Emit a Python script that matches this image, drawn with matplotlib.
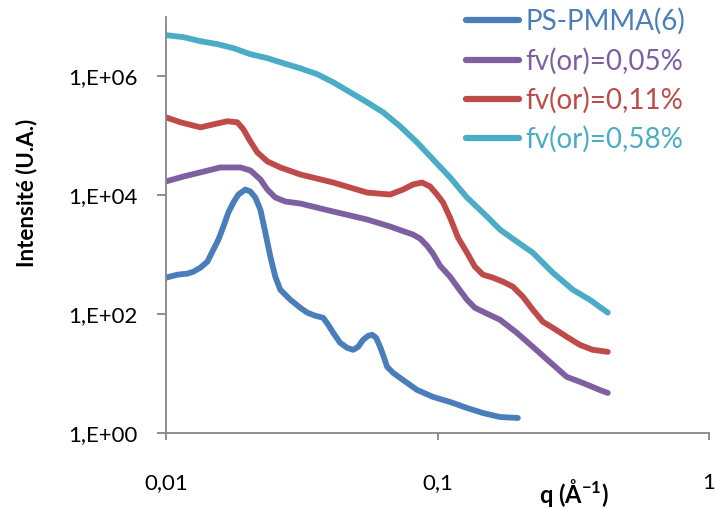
import matplotlib
matplotlib.use("Agg")
import matplotlib.pyplot as plt
from matplotlib.ticker import FixedLocator, FixedFormatter

plt.rcParams['font.family'] = ['Lato', 'DejaVu Sans']
plt.rcParams['mathtext.fontset'] = 'custom'
plt.rcParams['mathtext.rm'] = 'Lato'
plt.rcParams['mathtext.bf'] = 'Lato:bold'

# --- donnees (q en 1/A, intensite en U.A.) ---
q_ps = [0.01, 0.01102, 0.01199, 0.01262, 0.01339, 0.01421, 0.01495, 0.0156, 0.01627,
        0.01697, 0.01771, 0.01848, 0.0196, 0.02045, 0.02133, 0.02226, 0.02322, 0.02423,
        0.02527, 0.02636, 0.02869, 0.03123, 0.03313, 0.03545, 0.03793, 0.03957, 0.04129,
        0.0438, 0.04648, 0.04891, 0.05103, 0.05322, 0.05553, 0.05744, 0.05942, 0.06147,
        0.06359, 0.06522, 0.06862, 0.0728, 0.08407, 0.09627, 0.1112, 0.1284, 0.147,
        0.1698, 0.1977]
I_ps = [411, 462, 480, 519, 606, 765, 1.22e3, 1.80e3, 2.98e3,
        5.13e3, 7.57e3, 1.03e4, 1.25e4, 1.16e4, 9.18e3, 5.76e3, 2.36e3, 929,
        427, 258, 175, 128, 106, 94.0, 86.9, 66.3, 48.6,
        32.9, 27.1, 25.1, 28.2, 37.0, 43.2, 45.0, 40.0, 28.2,
        18.4, 13.0, 10.3, 8.46, 5.31, 4.05, 3.33, 2.64, 2.17,
        1.86, 1.79]

q_005 = [0.01, 0.0116, 0.01339, 0.01586, 0.01879, 0.02045, 0.02226, 0.02362, 0.02527,
         0.0275, 0.03123, 0.04129, 0.05506, 0.0669, 0.08127, 0.08625, 0.0915, 0.09627,
         0.1021, 0.1112, 0.119, 0.1284, 0.1373, 0.147, 0.1698, 0.196, 0.2244,
         0.2592, 0.2993, 0.3427, 0.3957, 0.4237]
I_005 = [1.71e4, 2.07e4, 2.43e4, 2.94e4, 2.94e4, 2.62e4, 1.85e4, 1.25e4, 9.18e3,
         7.86e3, 7.27e3, 5.33e3, 3.91e3, 2.98e3, 2.18e3, 1.87e3, 1.42e3, 1.04e3,
         655, 427, 279, 175, 128, 110, 80.5, 48.6, 28.2,
         15.7, 8.80, 6.97, 5.31, 4.73]

q_011 = [0.01, 0.01131, 0.01339, 0.01495, 0.01683, 0.01832, 0.01927, 0.02045, 0.0217,
         0.02362, 0.02636, 0.03123, 0.04129, 0.05506, 0.0669, 0.07467, 0.08127, 0.0877,
         0.09385, 0.09958, 0.1048, 0.1112, 0.119, 0.1284, 0.1373, 0.147, 0.16,
         0.1741, 0.1895, 0.2062, 0.2244, 0.2443, 0.2658, 0.2993, 0.3341, 0.3729, 0.4237]
I_011 = [2.05e5, 1.69e5, 1.39e5, 1.56e5, 1.76e5, 1.69e5, 1.29e5, 8.07e4, 5.27e4,
         3.72e4, 2.94e4, 2.24e4, 1.64e4, 1.11e4, 1.03e4, 1.25e4, 1.52e4, 1.64e4,
         1.41e4, 1.03e4, 7.57e3, 4.22e3, 1.94e3, 1.08e3, 630, 462, 411,
         352, 290, 197, 119, 74.5, 59.0, 41.6, 30.5, 25.1, 23.2]

q_058 = [0.01, 0.0116, 0.01339, 0.01547, 0.01771, 0.02045, 0.02362, 0.02704, 0.03123,
         0.03606, 0.04129, 0.04768, 0.05506, 0.06305, 0.0728, 0.08407, 0.09627, 0.1112,
         0.1284, 0.1521, 0.1698, 0.196, 0.2244, 0.2658, 0.3149, 0.3636, 0.4237]
I_058 = [4.95e6, 4.58e6, 3.92e6, 3.49e6, 2.99e6, 2.37e6, 2.03e6, 1.67e6, 1.37e6,
         1.09e6, 7.98e5, 5.42e5, 3.67e5, 2.49e5, 1.45e5, 7.77e4, 4.02e4, 2.00e4,
         9.18e3, 4.39e3, 2.65e3, 1.66e3, 1.08e3, 499, 258, 175, 106]

labels = ['PS-PMMA(6)', 'fv(or)=0,05%', 'fv(or)=0,11%', 'fv(or)=0,58%']
colors = ['#4A7EBB', '#7D60A0', '#BE4B48', '#4BACC6']

x_ticks = [0.01, 0.1, 1]
x_ticklabels = ['0,01', '0,1', '1']
y_ticks = [1, 1e2, 1e4, 1e6]
y_ticklabels = ['1,E+00', '1,E+02', '1,E+04', '1,E+06']

fig = plt.figure(figsize=(7.15, 5.08), dpi=100)
ax = fig.add_axes([166/715, 1-433/508, (709-166)/715, (433-17)/508])

series = [(q_ps, I_ps), (q_005, I_005), (q_011, I_011), (q_058, I_058)]
for (q, I), lab, c in zip(series, labels, colors):
    ax.plot(q, I, color=c, lw=4.2, label=lab, solid_capstyle='round', solid_joinstyle='round')

ax.set_xscale('log')
ax.set_yscale('log')
ax.set_xlim(0.01, 1)
ax.set_ylim(1, 1e7)

ax.xaxis.set_major_locator(FixedLocator(x_ticks))
ax.xaxis.set_major_formatter(FixedFormatter(x_ticklabels))
ax.xaxis.set_minor_locator(FixedLocator([]))
ax.yaxis.set_major_locator(FixedLocator(y_ticks))
ax.yaxis.set_major_formatter(FixedFormatter(y_ticklabels))
ax.yaxis.set_minor_locator(FixedLocator([]))

for s in ['top', 'right']:
    ax.spines[s].set_visible(False)
for s in ['left', 'bottom']:
    ax.spines[s].set_color('#868686')
    ax.spines[s].set_linewidth(1.3)

ax.tick_params(axis='y', direction='out', length=6.5, width=1.3, color='#868686',
               labelsize=16, pad=14)
ax.tick_params(axis='x', direction='out', length=5, width=1.3, color='#868686',
               labelsize=16, pad=24)

fig.text(27/715, 1-193/508, 'Intensité (U.A.)', rotation=90, ha='center', va='center',
         fontsize=16, fontweight='bold')
fig.text(574/715, 1-493/508, r'q (Å$^{\mathbf{-1}}$)', ha='center', va='center',
         fontsize=17, fontweight='bold')

leg = ax.legend(loc='upper left', bbox_to_anchor=(466/715, 1-8/508), bbox_transform=fig.transFigure,
                frameon=False, fontsize=20, handlelength=1.9, handletextpad=0.25,
                labelspacing=0.45, borderpad=0, borderaxespad=0)
for t, c in zip(leg.get_texts(), colors):
    t.set_color(c)
for l in leg.get_lines():
    l.set_linewidth(4.5)

fig.savefig('out.png', dpi=100)
